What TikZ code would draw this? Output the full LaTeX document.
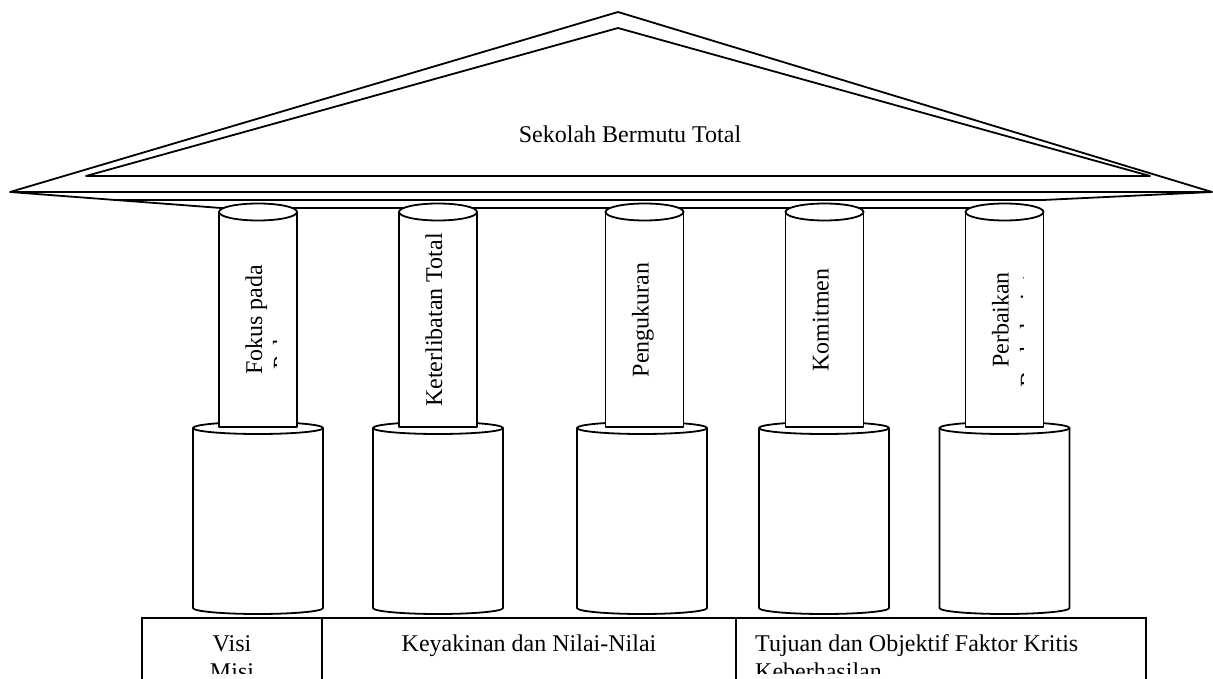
\documentclass[tikz,border=0pt]{standalone}
\usepackage{fontspec}
\setmainfont{Liberation Serif}
\begin{document}
\begin{tikzpicture}[x=1pt,y=-1pt,
  ln/.style={draw=black, line width=1.8pt, line join=round},
  solid/.style={ln, fill=white},
  lbl/.style={inner sep=0pt, font=\fontsize{24}{27.6}\selectfont},
  vlbl/.style={lbl, rotate=90, anchor=base},
]
\useasboundingbox (0,0) rectangle (1213,679);
\clip (0,0) rectangle (1213,679);

% roof
\draw[ln] (10,192) -- (618,12) -- (1212,192) -- cycle;
\draw[ln] (86,176) -- (618,28) -- (1150,176) -- cycle;
\node[lbl, anchor=base] (roof) at (630,143) {Sekolah Bermutu Total};

% beam
\draw[ln] (10,192) -- (221,208) -- (1000,208);
\draw[ln] (115,200) -- (1043,200) -- (1212,192);

% lower cylinders
\foreach \c in {258,438,642,824,1004.5} {
  \path[solid] (\c-65,428) -- (\c-65,608) arc[start angle=180,end angle=0,x radius=65,y radius=6] -- (\c+65,428);
  \path[solid] (\c,428) ellipse [x radius=65,y radius=6];
}

% upper shafts
\foreach \c in {258,438,644.5,824.5,1004.5} {
  \path[solid] (\c-39,212) -- (\c-39,427) -- (\c+39,427) -- (\c+39,212);
  \path[solid] (\c,212) ellipse [x radius=39,y radius=8.5];
}

% shaft labels
\node[vlbl] (p1) at (262,320) {Fokus pada};
\begin{scope}
  \clip (219,230) rectangle (276.5,420);
  \node[vlbl] (p1b) at (289.6,320) {Pelanggan};
\end{scope}
\node[vlbl] (p2) at (442,320) {Keterlibatan Total};
\node[vlbl] (p3) at (648.5,320) {Pengukuran};
\node[vlbl] (p4) at (828.5,320) {Komitmen};
\node[vlbl] (p5) at (1008.5,320) {Perbaikan};
\begin{scope}
  \clip (966,230) rectangle (1023.5,420);
  \node[vlbl] (p5b) at (1036.6,320) {Berkelanjutan};
\end{scope}

% base
\draw[ln, line join=miter] (142,700) -- (142,618) -- (1146,618) -- (1146,700);
\draw[ln] (322,618) -- (322,700);
\draw[ln] (736,618) -- (736,700);
\begin{scope}
  \clip (142,618) rectangle (1146,673);
  \node[lbl, anchor=base] (visi) at (232,651) {Visi};
  \node[lbl, anchor=base] (misi) at (232,679) {Misi};
  \node[lbl, anchor=base] (nilai) at (529,651) {Keyakinan dan Nilai-Nilai};
  \node[lbl, anchor=base west] (tujuan) at (755,651) {Tujuan dan Objektif Faktor Kritis};
  \node[lbl, anchor=base west] (hasil) at (755,679) {Keberhasilan};
\end{scope}
\end{tikzpicture}
\end{document}
